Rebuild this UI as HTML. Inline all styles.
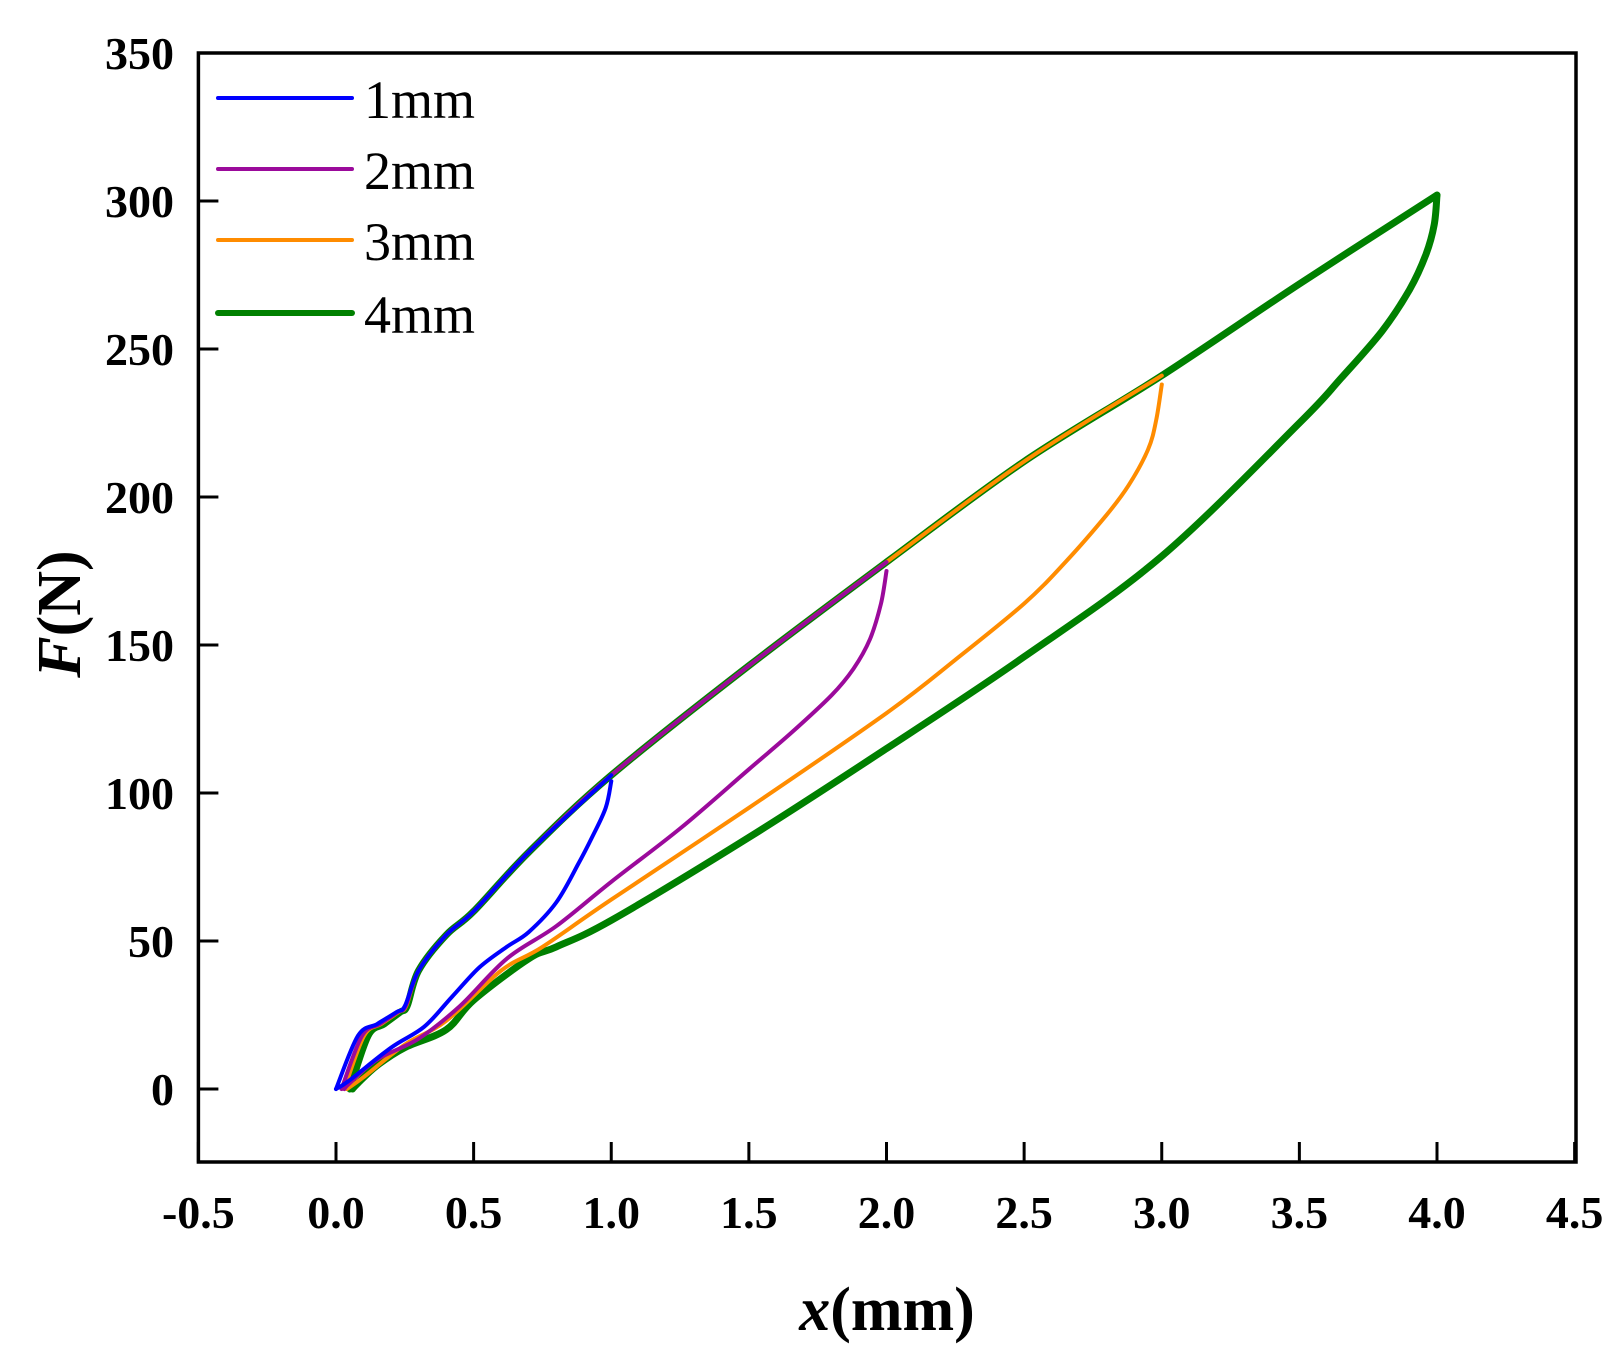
<!DOCTYPE html>
<html><head><meta charset="utf-8"><style>
html,body{margin:0;padding:0;background:#fff;}
svg{display:block;font-family:"Liberation Serif",serif;}
</style></head><body>
<svg id="chart" width="1623" height="1364">
</svg>
<script>
const xTicks=[-0.5,0.0,0.5,1.0,1.5,2.0,2.5,3.0,3.5,4.0,4.5];
const yTicks=[0,50,100,150,200,250,300,350];
const seriesNames=["1mm","2mm","3mm","4mm"];
const seriesColors=["#0000ff","#9b0a9b","#ff8c00","#008000"];
const loadX=[0.0,0.08,0.15,0.22,0.25,0.3,0.4,0.5,0.7,1.0,1.5,2.0,2.5,3.0,3.5,4.0];
const loadY=[0,18,22,26,28,40,52,60,80,106,143,178,212,241,272,302];
const unload1X=[1.0,0.98,0.93,0.88,0.8,0.7,0.62,0.52,0.42,0.32,0.2,0.05,0.0];
const unload1Y=[104,95,85,76,63,53,48,41,31,21,14,3,0];
const unload2X=[2.0,1.98,1.94,1.88,1.8,1.65,1.5,1.25,1.0,0.8,0.62,0.45,0.3,0.15,0.05,0.03];
const unload2Y=[175,164,152,142,133,120,108,88,70,55,44,28,17,10,2,0];
const unload3X=[3.0,2.98,2.95,2.88,2.8,2.65,2.5,2.25,2.0,1.5,1.0,0.75,0.6,0.4,0.25,0.1,0.04];
const unload3Y=[238,226,216,204,194,178,164,145,127,95,64,48,40,23,15,4,0];
const unload4X=[4.0,3.99,3.96,3.9,3.8,3.65,3.5,3.0,2.5,2.0,1.5,1.0,0.8,0.7,0.5,0.4,0.25,0.15,0.08,0.06];
const unload4Y=[302,292,282,270,256,240,225,180,146,115,85,57,48,44,30,20,14,8,2,0];
const maxX=[1.0,2.0,3.0,4.0];
const startOffsets=[0.0,0.02,0.03,0.05];

const NS="http://www.w3.org/2000/svg";
const svg=document.getElementById('chart');
const L=198.4,R=1576,T=53,B=1162;
const sx=v=>336+(v)*275.25;
const sy=v=>1089-v*2.96;
function mk(tag,attrs,parent){const e=document.createElementNS(NS,tag);for(const k in attrs)e.setAttribute(k,attrs[k]);(parent||svg).appendChild(e);return e;}

xTicks.forEach(t=>{
  const ln=mk('line',{x1:sx(t),x2:sx(t),y1:B,y2:B-20,stroke:'#000','stroke-width':3});
  
  
  const tx=mk('text',{x:sx(t),y:1228,'text-anchor':'middle','font-size':46,'font-weight':'bold'});
  tx.textContent=t.toFixed(1);
  
  
});
yTicks.forEach(t=>{
  const ln=mk('line',{x1:L,x2:L+20,y1:sy(t),y2:sy(t),stroke:'#000','stroke-width':3});
  
  
  const tx=mk('text',{x:174,y:sy(t)+16,'text-anchor':'end','font-size':46,'font-weight':'bold'});
  tx.textContent=String(t);
  
  
});

function smooth(pts){
  let d='M'+pts[0][0].toFixed(1)+','+pts[0][1].toFixed(1);
  for(let i=0;i<pts.length-1;i++){
    const p0=pts[Math.max(0,i-1)],p1=pts[i],p2=pts[i+1],p3=pts[Math.min(pts.length-1,i+2)];
    const c1=[p1[0]+(p2[0]-p0[0])/6,p1[1]+(p2[1]-p0[1])/6];
    const c2=[p2[0]-(p3[0]-p1[0])/6,p2[1]-(p3[1]-p1[1])/6];
    d+=' C'+c1[0].toFixed(1)+','+c1[1].toFixed(1)+' '+c2[0].toFixed(1)+','+c2[1].toFixed(1)+' '+p2[0].toFixed(1)+','+p2[1].toFixed(1);
  }
  return d;
}
const unloads=[[unload1X,unload1Y],[unload2X,unload2Y],[unload3X,unload3Y],[unload4X,unload4Y]];
[3,2,1,0].forEach(i=>{
  const lp=[];
  loadX.forEach((x,j)=>{ if(x<=maxX[i]+1e-9){const xx=x+startOffsets[i]*(1-Math.min(x,0.3)/0.3);lp.push([sx(xx),sy(loadY[j])]);} });
  const up=unloads[i][0].map((x,j)=>[sx(x),sy(unloads[i][1][j])]);
  const w=i===3?7:4;
  const p1=mk('path',{d:smooth(lp),fill:'none',stroke:seriesColors[i],'stroke-width':w,'stroke-linejoin':'round','stroke-linecap':'round'});
  
  
  const p2=mk('path',{d:smooth(up),fill:'none',stroke:seriesColors[i],'stroke-width':w,'stroke-linejoin':'round','stroke-linecap':'round'});
  
  
});

const fr=mk('rect',{x:L,y:T,width:R-L,height:B-T,fill:'none',stroke:'#000','stroke-width':3.5});



const legY=[98,169,240,313];
seriesNames.forEach((n,i)=>{
  const ln=mk('line',{x1:218,x2:352,y1:legY[i],y2:legY[i],stroke:seriesColors[i],'stroke-width':i===3?6:4,'stroke-linecap':'round'});
  
  
  const tx=mk('text',{x:364,y:legY[i]+20,'font-size':54});
  tx.textContent=n;
  
  
});

const xt=mk('text',{x:887,y:1330,'text-anchor':'middle','font-size':62,'font-weight':'bold'});
xt.innerHTML='<tspan font-style="italic">x</tspan>(mm)';


const yt=mk('text',{x:0,y:0,'text-anchor':'middle','font-size':62,'font-weight':'bold',transform:'translate(80,614) rotate(-90)'});
yt.innerHTML='<tspan font-style="italic">F</tspan>(N)';


</script>
</body></html>
